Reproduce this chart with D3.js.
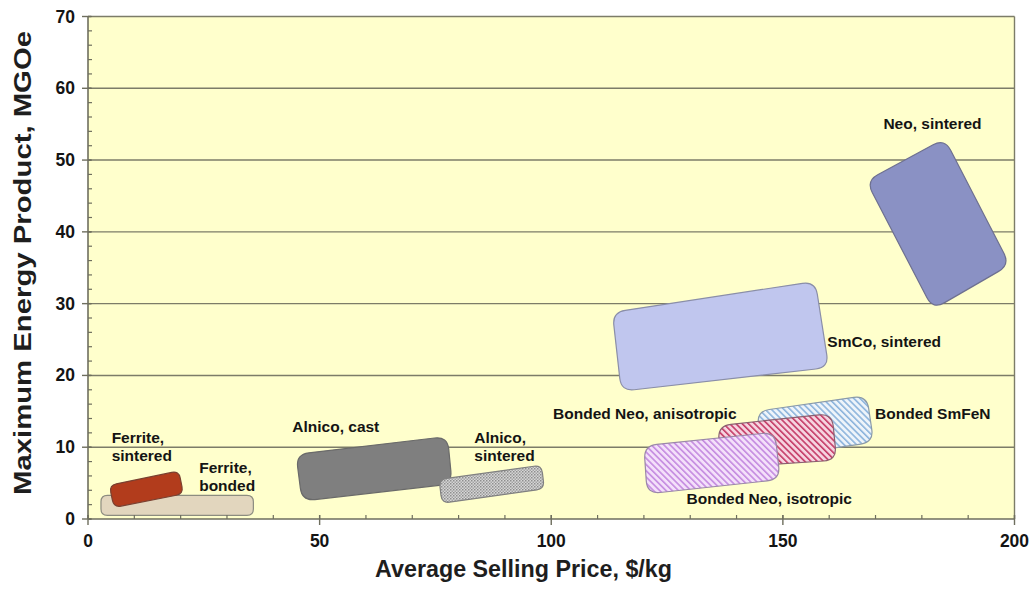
<!DOCTYPE html>
<html>
<head>
<meta charset="utf-8">
<script src="https://cdn.jsdelivr.net/npm/d3@7"></script>
<style>
  html, body { margin: 0; padding: 0; background: #fff; }
  svg { display: block; font-family: "Liberation Sans", Arial, sans-serif; }
</style>
</head>
<body>
<svg id="chart" width="1036" height="589"></svg>
<script>
// ---------- data ----------
const materials = [
  "Ferrite, bonded", "Ferrite, sintered", "Alnico, cast", "Alnico, sintered",
  "Bonded SmFeN", "Bonded Neo, anisotropic", "Bonded Neo, isotropic",
  "SmCo, sintered", "Neo, sintered"
];
// four corners of each region: average selling price ($/kg)
const cornerPrice = [
  [2.8, 35.7, 35.7, 2.8],
  [4.6, 19.6, 20.6, 5.6],
  [44.9, 77.6, 78.6, 46.2],
  [75.8, 97.9, 98.5, 76.4],
  [144.3, 168.1, 169.6, 145.8],
  [136.0, 160.6, 161.6, 136.6],
  [120.0, 148.3, 149.4, 120.7],
  [113.2, 157.0, 159.9, 115.1],
  [184.9, 199.0, 182.4, 168.0]
];
// four corners of each region: maximum energy product (MGOe)
const cornerEnergy = [
  [3.3, 3.3, 0.5, 0.5],
  [4.7, 6.7, 3.5, 1.6],
  [9.0, 11.5, 4.9, 2.5],
  [5.5, 7.5, 4.2, 2.2],
  [15.0, 17.2, 10.7, 8.5],
  [13.0, 14.7, 8.2, 7.1],
  [10.2, 12.1, 5.5, 3.5],
  [28.8, 33.1, 21.1, 17.8],
  [53.0, 35.4, 29.2, 47.1]
];
const labelLines = [
  ["Ferrite,", "bonded"], ["Ferrite,", "sintered"], ["Alnico, cast"], ["Alnico,", "sintered"],
  ["Bonded SmFeN"], ["Bonded Neo, anisotropic"], ["Bonded Neo, isotropic"],
  ["SmCo, sintered"], ["Neo, sintered"]
];
const labelPrice  = [24.0, 5.1, 44.1, 83.4, 169.9, 100.4, 129.2, 159.6, 171.7];
const labelEnergy = [6.4, 10.6, 12.1, 10.6, 13.9, 13.9, 2.1, 24.0, 54.3];

const xTicks = [0, 50, 100, 150, 200];
const yTicks = [0, 10, 20, 30, 40, 50, 60, 70];
const xMinorTicks = d3.range(0, 201, 10);
const yMinorTicks = d3.range(0, 71, 2);
const xTitle = "Average Selling Price, $/kg";
const yTitle = "Maximum Energy Product, MGOe";

// ---------- styles ----------
const fills = ["#e2d6be", "#b23c1c", "#7f7f7f", "url(#dots)", "url(#hatchBlue)",
               "url(#hatchRed)", "url(#hatchViolet)", "#c0c6ee", "#8a91c4"];
const strokes = ["#8c8c80", "#7a4030", "#6a6a6a", "#808080", "#8a9aaa",
                 "#8a6070", "#9a88a8", "#8a8ea8", "#6e7090"];

// ---------- layout ----------
const svg = d3.select("#chart");
const x = d3.scaleLinear().domain([0, 200]).range([88, 1014.5]);
const y = d3.scaleLinear().domain([0, 70]).range([519, 16.5]);

// patterns
const defs = svg.append("defs");
function hatch(id, bg, fg) {
  const p = defs.append("pattern").attr("id", id).attr("patternUnits", "userSpaceOnUse")
    .attr("width", 4.4).attr("height", 4.4).attr("patternTransform", "rotate(-45)");
  p.append("rect").attr("width", 4.4).attr("height", 4.4).attr("fill", bg);
  p.append("rect").attr("x", 0).attr("width", 1.6).attr("height", 4.4).attr("fill", fg);
}
hatch("hatchBlue", "#eef4fa", "#8cb4dc");
hatch("hatchRed", "#f6d4e0", "#c43a66");
hatch("hatchViolet", "#f4e0fa", "#c48ae0");
{
  const p = defs.append("pattern").attr("id", "dots").attr("patternUnits", "userSpaceOnUse")
    .attr("width", 3).attr("height", 3);
  p.append("rect").attr("width", 3).attr("height", 3).attr("fill", "#d6d6d6");
  p.append("rect").attr("width", 1.5).attr("height", 1.5).attr("fill", "#8e8e8e");
  p.append("rect").attr("x", 1.5).attr("y", 1.5).attr("width", 1.5).attr("height", 1.5).attr("fill", "#a4a4a4");
}

// plot background
svg.append("rect").attr("x", x(0)).attr("y", y(70))
  .attr("width", x(200) - x(0)).attr("height", y(0) - y(70)).attr("fill", "#ffffcc");

// gridlines
svg.append("g").selectAll("line").data(yTicks.filter(d => d > 0)).join("line")
  .attr("x1", x(0)).attr("x2", x(200)).attr("y1", d => y(d)).attr("y2", d => y(d))
  .attr("stroke", "#7c7c68").attr("stroke-width", 1.4);
// right border
svg.append("line").attr("x1", x(200)).attr("x2", x(200)).attr("y1", y(70)).attr("y2", y(0))
  .attr("stroke", "#7c7c68").attr("stroke-width", 1.4);

// rounded polygon through scales
function roundedPath(pts, rMax) {
  const n = pts.length;
  let minEdge = Infinity;
  for (let i = 0; i < n; i++) {
    const a = pts[i], b = pts[(i + 1) % n];
    minEdge = Math.min(minEdge, Math.hypot(b[0] - a[0], b[1] - a[1]));
  }
  const r = Math.min(rMax, minEdge * 0.32);
  const path = d3.path();
  for (let i = 0; i < n; i++) {
    const p0 = pts[(i - 1 + n) % n], p1 = pts[i], p2 = pts[(i + 1) % n];
    const d1 = Math.hypot(p0[0] - p1[0], p0[1] - p1[1]);
    const d2 = Math.hypot(p2[0] - p1[0], p2[1] - p1[1]);
    const a = [p1[0] + (p0[0] - p1[0]) * r / d1, p1[1] + (p0[1] - p1[1]) * r / d1];
    const b = [p1[0] + (p2[0] - p1[0]) * r / d2, p1[1] + (p2[1] - p1[1]) * r / d2];
    if (i === 0) path.moveTo(a[0], a[1]); else path.lineTo(a[0], a[1]);
    path.quadraticCurveTo(p1[0], p1[1], b[0], b[1]);
  }
  path.closePath();
  return path.toString();
}

const regions = materials.map((m, i) => ({
  name: m,
  pts: cornerPrice[i].map((p, k) => [x(p), y(cornerEnergy[i][k])]),
  fill: fills[i], stroke: strokes[i]
}));

svg.append("g").selectAll("path").data(regions).join("path")
  .attr("d", d => roundedPath(d.pts, 13))
  .attr("fill", d => d.fill)
  .attr("stroke", d => d.stroke)
  .attr("stroke-width", 1.2);

// labels
const lab = svg.append("g").attr("font-size", 15.5).attr("font-weight", "bold").attr("fill", "#141414");
materials.forEach((m, i) => {
  const t = lab.append("text").attr("x", x(labelPrice[i])).attr("y", y(labelEnergy[i]));
  labelLines[i].forEach((line, k) => {
    t.append("tspan").attr("x", x(labelPrice[i])).attr("dy", k === 0 ? 0 : 18).text(line);
  });
});

// axes
const axisColor = "#6e6e5e";
const xAxis = svg.append("g");
xAxis.append("line").attr("x1", x(0)).attr("x2", x(200)).attr("y1", y(0)).attr("y2", y(0))
  .attr("stroke", axisColor).attr("stroke-width", 1.6);
xAxis.selectAll("line.minor").data(xMinorTicks).join("line").attr("class", "minor")
  .attr("x1", d => x(d)).attr("x2", d => x(d)).attr("y1", y(0)).attr("y2", y(0) - 4)
  .attr("stroke", axisColor).attr("stroke-width", 1.2);
xAxis.selectAll("line.major").data(xTicks).join("line").attr("class", "major")
  .attr("x1", d => x(d)).attr("x2", d => x(d)).attr("y1", y(0) - 4).attr("y2", y(0) + 6)
  .attr("stroke", axisColor).attr("stroke-width", 1.4);
xAxis.selectAll("text").data(xTicks).join("text")
  .attr("x", d => x(d)).attr("y", 547).attr("text-anchor", "middle")
  .attr("font-size", 17.5).attr("font-weight", "bold").attr("fill", "#141414")
  .text(d => d);

const yAxis = svg.append("g");
yAxis.append("line").attr("x1", x(0)).attr("x2", x(0)).attr("y1", y(0)).attr("y2", y(70))
  .attr("stroke", axisColor).attr("stroke-width", 1.6);
yAxis.selectAll("line.minor").data(yMinorTicks).join("line").attr("class", "minor")
  .attr("x1", x(0)).attr("x2", x(0) + 4).attr("y1", d => y(d)).attr("y2", d => y(d))
  .attr("stroke", axisColor).attr("stroke-width", 1.2);
yAxis.selectAll("line.major").data(yTicks).join("line").attr("class", "major")
  .attr("x1", x(0) - 6).attr("x2", x(0) + 3).attr("y1", d => y(d)).attr("y2", d => y(d))
  .attr("stroke", axisColor).attr("stroke-width", 1.4);
yAxis.selectAll("text").data(yTicks).join("text")
  .attr("x", 75).attr("y", d => y(d) + 6).attr("text-anchor", "end")
  .attr("font-size", 17.5).attr("font-weight", "bold").attr("fill", "#141414")
  .text(d => d);

// titles
svg.append("text").attr("x", 375).attr("y", 577)
  .attr("font-size", 23).attr("font-weight", "bold").attr("fill", "#1e1e1e")
  .attr("textLength", 297).attr("lengthAdjust", "spacingAndGlyphs")
  .text(xTitle);
svg.append("text").attr("transform", "translate(31,495) rotate(-90)")
  .attr("font-size", 24).attr("font-weight", "bold").attr("fill", "#1e1e1e")
  .attr("textLength", 464).attr("lengthAdjust", "spacingAndGlyphs")
  .text(yTitle);
</script>
</body>
</html>
